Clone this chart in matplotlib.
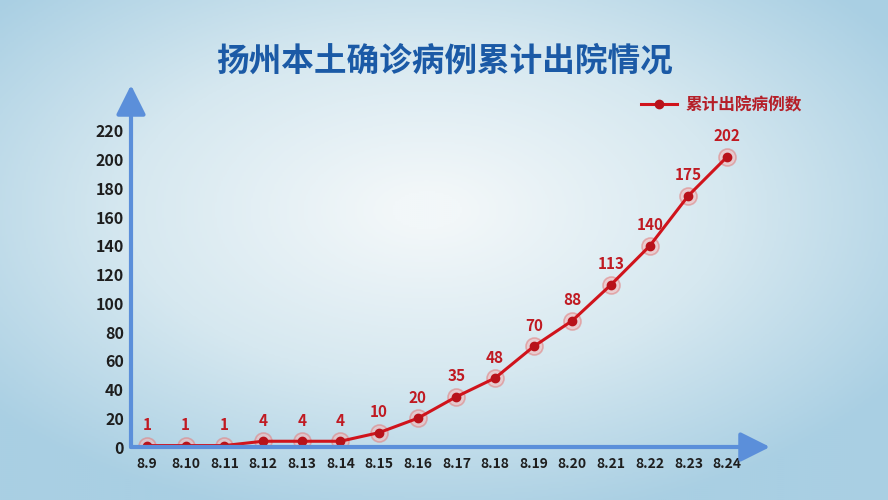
import numpy as np
import matplotlib
matplotlib.use("Agg")
import matplotlib.pyplot as plt
from matplotlib.colors import LinearSegmentedColormap

plt.rcParams['font.family'] = ['Noto Sans CJK SC', 'DejaVu Sans']

# 数据
dates = ['8.9', '8.10', '8.11', '8.12', '8.13', '8.14', '8.15', '8.16',
         '8.17', '8.18', '8.19', '8.20', '8.21', '8.22', '8.23', '8.24']
discharged = [1, 1, 1, 4, 4, 4, 10, 20, 35, 48, 70, 88, 113, 140, 175, 202]
y_ticks = list(range(0, 221, 20))

title = '扬州本土确诊病例累计出院情况'
series_name = '累计出院病例数'

axis_color = '#5b8fda'
line_color = '#d0141c'
label_color = '#c01a22'

fig = plt.figure(figsize=(8.88, 5), dpi=100)

# 背景：浅蓝色径向渐变
bg = fig.add_axes([0, 0, 1, 1], zorder=0)
yy, xx = np.mgrid[0:1:250j, 0:1:444j]
r = np.sqrt(((xx - 0.48) / 0.75) ** 2 + ((yy - 0.42) / 0.75) ** 2)
cmap = LinearSegmentedColormap.from_list('bg', ['#f2f7f9', '#d6e8f0', '#a9cfe3'])
bg.imshow(r, cmap=cmap, vmin=0.05, vmax=0.85, aspect='auto', extent=[0, 1, 1, 0])
bg.set_xlim(0, 1)
bg.set_ylim(1, 0)
bg.axis('off')

ax = fig.add_axes([131 / 888, 53 / 500, (770 - 131) / 888, (447 - 85) / 500], zorder=1)
ax.patch.set_alpha(0)

x = np.arange(len(dates))
ax.plot(x, discharged, color=line_color, lw=2.2, zorder=3, label=series_name,
        marker='o', markersize=6, markerfacecolor='#b8121a', markeredgecolor='#b8121a')
# 光晕
ax.scatter(x, discharged, s=150, facecolor='#f5b5b5', edgecolor='#e07c7c',
           alpha=0.55, lw=1.2, zorder=2)

for xi, v in zip(x, discharged):
    ax.annotate(str(v), (xi, v), xytext=(0, 9), textcoords='offset points',
                ha='center', va='bottom', fontsize=11, fontweight='bold',
                color=label_color, zorder=4)

ax.set_xlim(-0.414, 16.11)
ax.set_ylim(0, 252)
ax.set_yticks(y_ticks)
ax.set_xticks(x)
ax.set_xticklabels(dates)
ax.tick_params(axis='both', length=0)
ax.tick_params(axis='y', pad=5, labelsize=11.5)
ax.tick_params(axis='x', pad=7, labelsize=10)
for lab in ax.get_xticklabels() + ax.get_yticklabels():
    lab.set_fontweight('bold')
    lab.set_color('#1e1e1e')
for s in ax.spines.values():
    s.set_visible(False)

# 坐标轴箭头
arrow = dict(arrowstyle='-|>,head_length=0.9,head_width=0.45', color=axis_color,
             lw=3, mutation_scale=20, shrinkA=0, shrinkB=0)
ax.annotate('', xy=(1, 0), xytext=(0, 0), xycoords='axes fraction', arrowprops=arrow)
ax.annotate('', xy=(0, 1), xytext=(0, 0), xycoords='axes fraction', arrowprops=arrow)

fig.text(0.5, 0.877, title, ha='center', va='center', fontsize=23.5,
         fontweight='bold', color='#1b5aa6')

fig.legend(loc='center right', bbox_to_anchor=(0.92, 0.79), frameon=False,
           labelcolor='#b51f28', handlelength=2.2, handletextpad=0.5,
           prop={'weight': 'bold', 'size': 12})

fig.savefig('out.png', dpi=100)
